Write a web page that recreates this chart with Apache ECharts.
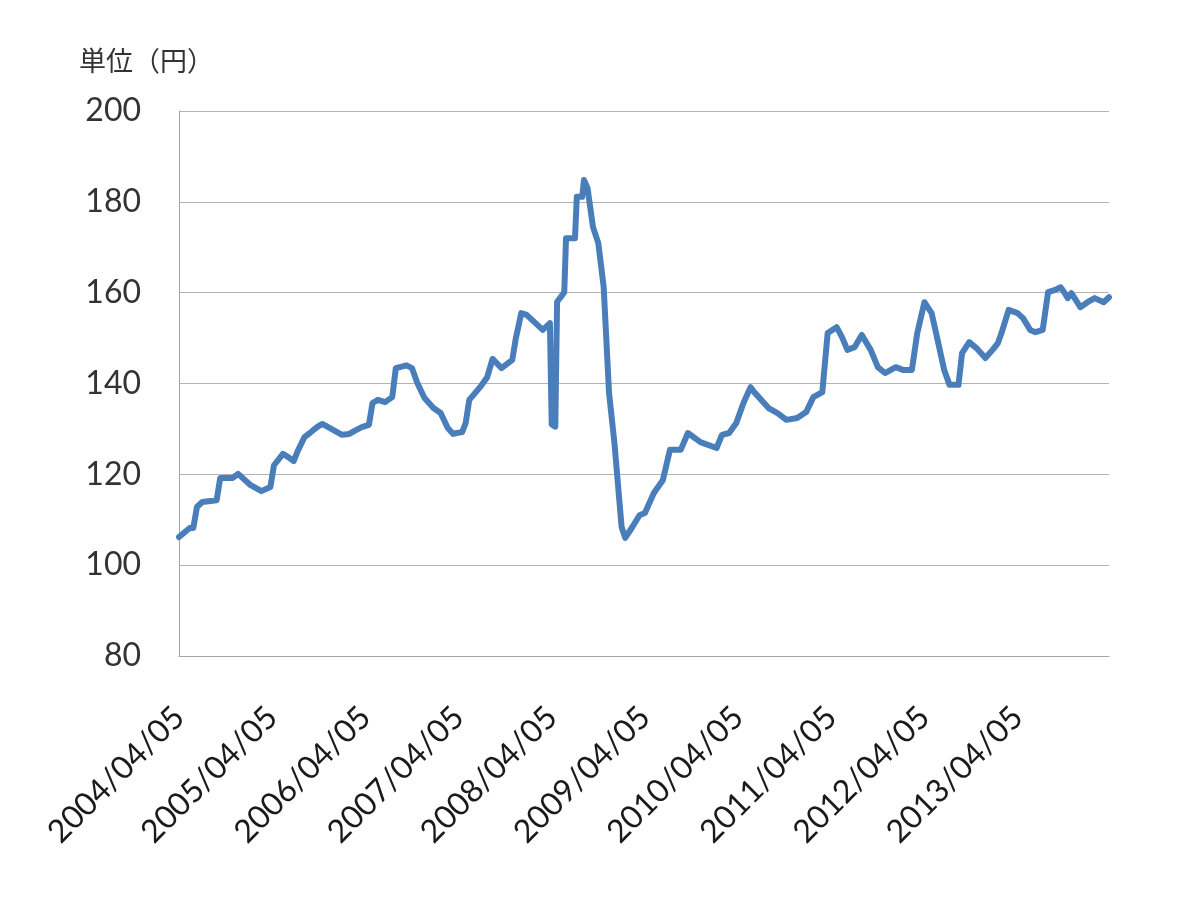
<!DOCTYPE html>
<html>
<head>
<meta charset="utf-8">
<script src="https://cdn.jsdelivr.net/npm/echarts@6/dist/echarts.min.js"></script>
<style>
html,body{margin:0;padding:0;background:#fff;}
#chart{width:1200px;height:900px;}
</style>
</head>
<body>
<div id="chart"></div>
<script>
// Week index since 2004/04/05 (weekly data)
var weeks = [0,6,8,10,13,21,23,30,33,40,46,51,53,58,61,64,66,70,73,77,80,86,91,95,99,102,106,108,111,115,119,121,127,130,133,137,142,146,150,153,155,158,160,162,168,172,175,180,186,188,189,191,194,200,203,207,208,210,211,213,215,216,221,222,225,226,228,231,234,237,240,243,247,249,253,257,260,265,270,274,278,280,284,291,300,303,307,311,315,319,321,329,334,339,345,350,354,359,362,367,370,373,377,381,386,390,394,400,404,409,412,416,420,423,427,430,435,437,441,445,450,454,457,459,463,468,471,475,478,482,485,489,492,494,496,498,503,507,511,516,519];
var prices = [106.2,108.2,108.2,112.8,113.9,114.3,119.2,119.2,120.1,117.6,116.3,117.2,122,124.5,123.8,122.9,124.9,128.2,129.1,130.4,131.1,129.8,128.7,128.9,129.8,130.4,130.9,135.7,136.4,135.9,137,143.4,144,143.4,140.1,136.8,134.6,133.5,130.2,128.9,129.1,129.3,131.3,136.4,139.2,141.4,145.4,143.4,145.2,150,150,155.5,155.1,152.9,151.8,153.3,131,130.5,158,159,160.1,172,172,181.1,181.1,184.8,183,174.5,170.9,161.2,137.9,126.9,108.4,106,108.4,111,111.5,115.9,118.7,125.4,125.4,125.4,129.1,127.1,125.8,128.7,129.1,131.3,135.7,139.2,138.1,134.6,133.5,132,132.4,133.7,137,138.1,151.1,152.4,150.2,147.4,148,150.7,147.4,143.6,142.3,143.6,143,143,151.1,157.9,155.5,150.2,143,139.7,139.7,146.7,149.1,147.8,145.6,147.4,148.9,151.1,156.2,155.5,154.4,151.8,151.3,151.8,160.1,160.6,161.2,160.1,158.8,159.9,156.8,157.9,158.8,157.9,159];
var tickLabels = ['2004/04/05','2005/04/05','2006/04/05','2007/04/05','2008/04/05','2009/04/05','2010/04/05','2011/04/05','2012/04/05','2013/04/05'];
var unitLabel = '単位（円）';

var seriesData = weeks.map(function(w,i){return [w, prices[i]];});

var chart = echarts.init(document.getElementById('chart'), null, {renderer:'canvas'});
chart.setOption({
  animation:false,
  backgroundColor:'#ffffff',
  title:{
    text:unitLabel,
    left:74, top:42,
    textStyle:{fontFamily:'Noto Sans CJK JP', fontSize:27, fontWeight:'normal', color:'#333333'}
  },
  grid:{left:179, right:91, top:111, bottom:244, containLabel:false},
  xAxis:{
    type:'value',
    min:0, max:519, interval:52,
    axisLine:{show:true, lineStyle:{color:'#a6a6a6', width:1}},
    axisTick:{show:false},
    splitLine:{show:false},
    axisLabel:{
      rotate:45,
      margin:56,
      fontFamily:'Lato',
      fontSize:32,
      color:'#1a1a1a',
      showMaxLabel:false,
      formatter:function(v){
        var k = v/52;
        if (Math.abs(k-Math.round(k))<1e-6 && tickLabels[Math.round(k)]) return tickLabels[Math.round(k)];
        return '';
      }
    }
  },
  yAxis:{
    type:'value',
    min:80, max:200, interval:20,
    axisLine:{show:true, lineStyle:{color:'#a6a6a6', width:1}},
    axisTick:{show:false},
    splitLine:{show:true, lineStyle:{color:'#b3b3b3', width:1}},
    axisLabel:{margin:38, fontFamily:'Lato', fontSize:32, color:'#333333'}
  },
  series:[{
    type:'line',
    data:seriesData,
    showSymbol:false,
    symbol:'none',
    lineStyle:{color:'#4a7ebb', width:6, cap:'round', join:'round'}
  }]
});
</script>
</body>
</html>
